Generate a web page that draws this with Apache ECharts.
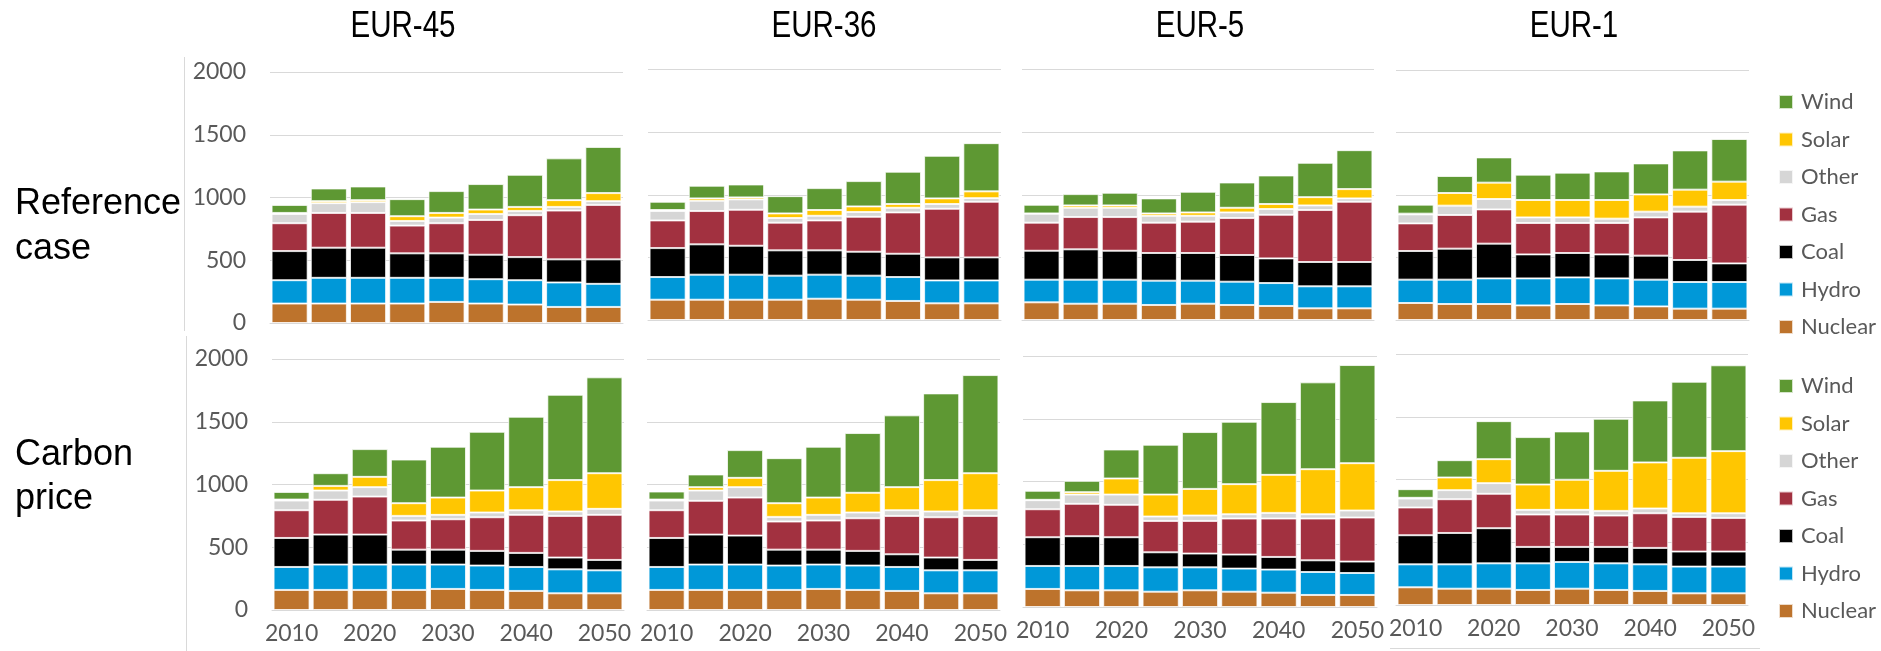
<!DOCTYPE html>
<html>
<head>
<meta charset="utf-8">
<script src="https://cdn.jsdelivr.net/npm/echarts@6/dist/echarts.min.js"></script>
<style>
  html, body { margin: 0; padding: 0; background: #fff; }
  #chart { width: 1881px; height: 651px; }
</style>
</head>
<body>
<div id="chart"></div>
<script>
// Categories and series
const years = ["2010", "2015", "2020", "2025", "2030", "2035", "2040", "2045", "2050"];
const sources = ["Nuclear", "Hydro", "Coal", "Gas", "Other", "Solar", "Wind"];
const regions = ["EUR-45", "EUR-36", "EUR-5", "EUR-1"];

// Each panel: rows in the order of `sources` (bottom of stack first)
const refEur45 = [
  [155, 155, 155, 155, 168, 155, 147, 128, 128],
  [186, 205, 205, 205, 192, 194, 194, 195, 184],
  [232, 240, 240, 195, 195, 195, 184, 184, 195],
  [222, 277, 277, 221, 240, 277, 334, 389, 434],
  [74, 78, 86, 37, 45, 48, 34, 29, 30],
  [8, 16, 16, 38, 37, 35, 32, 54, 64],
  [64, 101, 109, 136, 174, 203, 256, 333, 368],
];
const refEur36 = [
  [162, 162, 162, 162, 170, 162, 152, 133, 133],
  [181, 200, 200, 192, 192, 192, 191, 183, 183],
  [231, 242, 231, 202, 194, 191, 186, 184, 184],
  [221, 266, 287, 221, 239, 279, 330, 388, 444],
  [75, 82, 83, 37, 37, 38, 37, 38, 29],
  [8, 19, 16, 37, 46, 45, 30, 45, 54],
  [66, 101, 103, 138, 175, 202, 258, 340, 385],
];
const refEur5 = [
  [141, 130, 130, 120, 130, 120, 112, 93, 93],
  [181, 192, 192, 194, 184, 186, 183, 176, 176],
  [231, 242, 231, 221, 221, 213, 197, 194, 194],
  [224, 258, 269, 242, 250, 295, 348, 415, 481],
  [71, 74, 74, 55, 47, 45, 46, 37, 27],
  [3, 19, 19, 19, 27, 37, 40, 66, 74],
  [69, 90, 101, 120, 165, 202, 228, 274, 311],
];
const refEur1 = [
  [136, 128, 128, 117, 128, 117, 109, 91, 91],
  [187, 195, 205, 216, 213, 216, 214, 213, 213],
  [229, 248, 278, 192, 195, 192, 192, 176, 149],
  [221, 269, 274, 251, 240, 251, 306, 387, 470],
  [72, 75, 83, 45, 45, 35, 46, 40, 37],
  [6, 101, 131, 139, 139, 149, 138, 136, 147],
  [72, 136, 202, 203, 219, 229, 248, 314, 341],
];
const carbonEur45 = [
  [160, 160, 160, 160, 168, 160, 152, 133, 133],
  [183, 202, 202, 202, 194, 194, 191, 191, 183],
  [231, 239, 239, 119, 119, 117, 112, 94, 83],
  [221, 277, 303, 232, 242, 268, 303, 332, 359],
  [77, 74, 75, 37, 35, 38, 37, 35, 48],
  [8, 37, 82, 101, 138, 175, 184, 250, 284],
  [61, 101, 221, 348, 405, 468, 561, 680, 764],
];
const carbonEur36 = [
  [160, 160, 160, 160, 168, 160, 152, 133, 133],
  [183, 202, 202, 194, 194, 194, 191, 183, 183],
  [231, 239, 231, 127, 119, 117, 101, 102, 83],
  [221, 269, 303, 224, 232, 260, 306, 321, 351],
  [77, 82, 83, 37, 45, 46, 45, 46, 45],
  [8, 27, 74, 109, 138, 157, 184, 250, 295],
  [64, 101, 221, 359, 405, 476, 572, 691, 782],
];
const carbonEur5 = [
  [144, 133, 133, 122, 133, 122, 114, 96, 96],
  [183, 194, 194, 194, 183, 184, 184, 183, 175],
  [229, 237, 229, 120, 110, 112, 101, 93, 91],
  [223, 258, 258, 250, 260, 287, 306, 333, 351],
  [72, 74, 82, 35, 43, 34, 45, 34, 56],
  [3, 19, 128, 175, 212, 240, 303, 359, 377],
  [72, 90, 231, 397, 453, 497, 580, 692, 782],
];
const carbonEur1 = [
  [141, 130, 130, 120, 130, 120, 112, 93, 93],
  [183, 194, 202, 212, 213, 212, 212, 213, 213],
  [232, 250, 280, 131, 120, 131, 131, 120, 120],
  [221, 269, 274, 258, 258, 250, 276, 276, 268],
  [71, 72, 85, 37, 37, 37, 38, 29, 37],
  [6, 101, 191, 202, 240, 319, 367, 442, 495],
  [69, 138, 303, 378, 385, 415, 494, 606, 684],
];

const panels = [refEur45, refEur36, refEur5, refEur1, carbonEur45, carbonEur36, carbonEur5, carbonEur1];

// Styling / layout
const colors = ["#BD732C", "#0098D8", "#000000", "#A23140", "#D6D6D6", "#FFC601", "#5E9833"];
const gridBoxes = [
  { left: 270, top: 72, width: 353, height: 251 },
  { left: 648, top: 69.5, width: 353, height: 250.5 },
  { left: 1022, top: 69.5, width: 352, height: 250.5 },
  { left: 1396, top: 70, width: 353, height: 250 },
  { left: 272, top: 359, width: 352, height: 251 },
  { left: 647, top: 359, width: 353, height: 251 },
  { left: 1023, top: 356, width: 354, height: 251 },
  { left: 1396, top: 354, width: 352, height: 251 },
];
const titleX = [403, 824, 1200, 1574];
const labelFont = "Lato, 'Open Sans', sans-serif";
const gridColor = "#D9D9D9";
const textColor = "#595959";

const chart = echarts.init(document.getElementById("chart"));

const grid = gridBoxes.map((b) => ({ ...b, containLabel: false }));

const xAxis = gridBoxes.map((b, i) => ({
  type: "category",
  gridIndex: i,
  data: years,
  axisTick: { show: false },
  axisLine: { show: true, lineStyle: { color: gridColor, width: 1 } },
  axisLabel: {
    show: i >= 4,
    interval: 1,
    fontSize: 23,
    fontFamily: labelFont,
    color: textColor,
    margin: 12,
  },
}));

const yAxis = gridBoxes.map((b, i) => ({
  type: "value",
  gridIndex: i,
  min: 0,
  max: 2000,
  interval: 500,
  axisLine: { show: false },
  axisTick: { show: false },
  splitLine: { lineStyle: { color: gridColor, width: 1 } },
  axisLabel: {
    show: i % 4 === 0,
    formatter: (v) => String(v),
    fontSize: 23,
    fontFamily: labelFont,
    color: textColor,
    margin: 24,
  },
}));

const series = [];
panels.forEach((rows, p) => {
  rows.forEach((vals, s) => {
    series.push({
      type: "bar",
      name: sources[s],
      stack: "panel" + p,
      xAxisIndex: p,
      yAxisIndex: p,
      data: vals,
      barCategoryGap: "8%",
      itemStyle: {
        color: colors[s],
        borderColor: "rgba(255,255,255,0.75)",
        borderWidth: 1,
      },
      emphasis: { disabled: true },
    });
  });
});

const legendNames = sources.slice().reverse();
const makeLegend = (top) => ({
  data: legendNames,
  orient: "vertical",
  left: 1773,
  top: top,
  icon: "rect",
  itemWidth: 14,
  itemHeight: 14,
  itemGap: 15.5,
  selectedMode: false,
  textStyle: {
    fontSize: 22,
    lineHeight: 22,
    fontFamily: labelFont,
    color: textColor,
    padding: [0, 0, 0, 3],
  },
});

const graphic = [];
regions.forEach((r, i) => {
  graphic.push({
    type: "text",
    x: titleX[i],
    y: 27,
    scaleX: 0.82,
    style: {
      text: r,
      x: 0,
      y: 0,
      textAlign: "center",
      textVerticalAlign: "middle",
      font: "36px 'Liberation Sans', Arial, sans-serif",
      fill: "#000",
    },
  });
});
[
  ["Reference", 204],
  ["case", 249],
  ["Carbon", 455],
  ["price", 499],
].forEach(([t, y]) => {
  graphic.push({
    type: "text",
    x: 15,
    y: y,
    style: {
      text: t,
      textAlign: "left",
      textVerticalAlign: "middle",
      font: "36px 'Liberation Sans', Arial, sans-serif",
      fill: "#000",
    },
  });
});
// chart-area border lines
graphic.push(
  { type: "line", shape: { x1: 184.5, y1: 57, x2: 184.5, y2: 331 }, style: { stroke: gridColor, lineWidth: 1 } },
  { type: "line", shape: { x1: 186.5, y1: 336, x2: 186.5, y2: 651 }, style: { stroke: gridColor, lineWidth: 1 } },
  { type: "line", shape: { x1: 1390, y1: 648.5, x2: 1760, y2: 648.5 }, style: { stroke: gridColor, lineWidth: 1 } }
);

chart.setOption({
  animation: false,
  backgroundColor: "#fff",
  grid,
  xAxis,
  yAxis,
  legend: [makeLegend(86), makeLegend(370)],
  graphic,
  series,
});
</script>
</body>
</html>
